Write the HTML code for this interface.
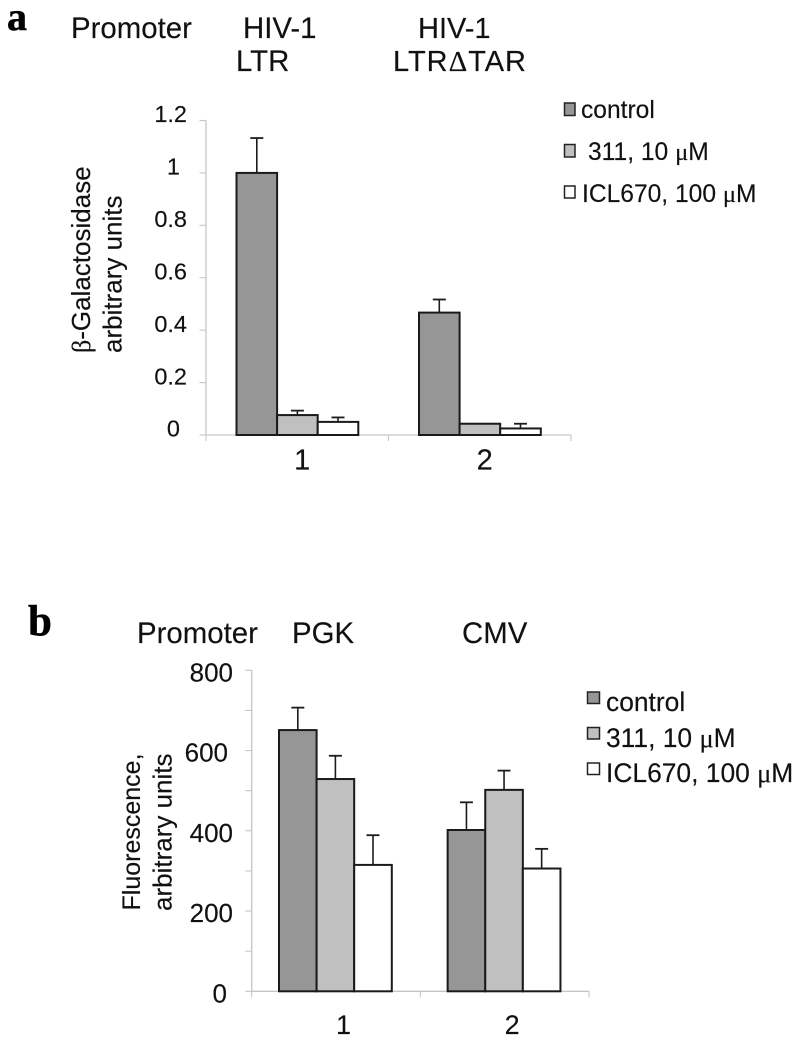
<!DOCTYPE html>
<html>
<head>
<meta charset="utf-8">
<title>Promoter activity bar charts</title>
<style>
html,body{margin:0;padding:0;background:#fff;width:800px;height:1045px;overflow:hidden}
svg{display:block;filter:blur(.3px)}
text{font-family:"Liberation Sans",sans-serif;fill:#111;stroke:#111;stroke-width:.15px}
.sym{font-family:"Liberation Serif",serif}
.letter{font-family:"Liberation Serif",serif;font-weight:bold;font-size:40px;fill:#000;stroke:#000;stroke-width:.5px}
</style>
</head>
<body>
<svg id="figure" width="800" height="1045" viewBox="0 0 800 1045" xmlns="http://www.w3.org/2000/svg">
  <rect width="800" height="1045" fill="#fff"/>

  <text class="letter" x="7" y="30">a</text>
  <text x="71" y="38" font-size="29.4">Promoter</text>
  <text x="243" y="38" font-size="29.4">HIV-1</text>
  <text x="236" y="71" font-size="29.4">LTR</text>
  <text x="418" y="38" font-size="29">HIV-1</text>
  <text x="393" y="71" font-size="29" textLength="133" lengthAdjust="spacing">LTR<tspan class="sym">Δ</tspan>TAR</text>
  <text transform="translate(90 353) rotate(-90)" font-size="26"><tspan class="sym">β</tspan>-Galactosidase</text>
  <text transform="translate(121.5 353) rotate(-90)" font-size="26">arbitrary units</text>

  <rect x="564.5" y="103" width="10.5" height="12.5" fill="#969696" stroke="#222" stroke-width="1.5"/>
  <text x="581" y="118" font-size="24.6">control</text>
  <rect x="564.5" y="144.5" width="10.5" height="12.5" fill="#c0c0c0" stroke="#222" stroke-width="1.5"/>
  <text x="588" y="160" font-size="24.6">311, 10 <tspan class="sym">μ</tspan>M</text>
  <rect x="564.5" y="186" width="10.5" height="12" fill="#fff" stroke="#222" stroke-width="1.5"/>
  <text x="582" y="202" font-size="24.6">ICL670, 100 <tspan class="sym">μ</tspan>M</text>

  <text class="letter" x="28" y="635" style="font-size:43px">b</text>
  <text x="137" y="643" font-size="29.4">Promoter</text>
  <text x="292" y="643" font-size="29.4">PGK</text>
  <text x="462" y="643" font-size="29.4">CMV</text>
  <text transform="translate(140 910.5) rotate(-90)" font-size="25">Fluorescence,</text>
  <text transform="translate(171.5 911) rotate(-90)" font-size="26">arbitrary units</text>

  <rect x="587.5" y="692" width="12" height="11.5" fill="#969696" stroke="#222" stroke-width="1.5"/>
  <text x="606" y="711" font-size="26.4">control</text>
  <rect x="587.5" y="727.5" width="12" height="11.5" fill="#c0c0c0" stroke="#222" stroke-width="1.5"/>
  <text x="606" y="747" font-size="26.4">311, 10 <tspan class="sym">μ</tspan>M</text>
  <rect x="587.5" y="763" width="12" height="11.5" fill="#fff" stroke="#222" stroke-width="1.5"/>
  <text x="606" y="782" font-size="26.4">ICL670, 100 <tspan class="sym">μ</tspan>M</text>
</svg>
<script>
// Panel a data
const categoriesA = ['1', '2'];
const yTicksA = [0, 0.2, 0.4, 0.6, 0.8, 1, 1.2];
const controlA = [1.0, 0.467];
const drug311A = [0.076, 0.043];
const iclA = [0.05, 0.025];
const controlErrTopA = [1.133, 0.517];
const drug311ErrTopA = [0.093, 0.043];
const iclErrTopA = [0.067, 0.043];

// Panel b data
const categoriesB = ['1', '2'];
const yTicksB = [0, 100, 200, 300, 400, 500, 600, 700, 800];
const yLabelsB = ['0', '', '200', '', '400', '', '600', '', '800'];
const controlB = [651, 402];
const drug311B = [529, 502];
const iclB = [315, 306];
const controlErrTopB = [707, 471];
const drug311ErrTopB = [587, 550];
const iclErrTopB = [389, 355];

const seriesFills = ['#969696', '#c0c0c0', '#ffffff'];
const seriesNames = ['control', '311', 'icl670'];

const svg = document.getElementById('figure');
const NS = 'http://www.w3.org/2000/svg';

function make(tag, props) {
  const el = document.createElementNS(NS, tag);
  for (const k in props) el.setAttribute(k, props[k]);
  svg.appendChild(el);
  return el;
}

function drawPanel(cfg) {
  const yScale = v => cfg.y0 - (v - cfg.yMin) / (cfg.yMax - cfg.yMin) * (cfg.y0 - cfg.yTop);
  const catW = (cfg.x1 - cfg.x0) / cfg.categories.length;
  const xBar = (c, s) => cfg.x0 + catW * c + cfg.gap + s * cfg.barW;

  // axes
  const yAxis = make('line', {x1: cfg.x0, x2: cfg.x0, y1: cfg.yTop, y2: cfg.y0, stroke: '#c6c6c6', 'stroke-width': 1.3});
  
  
  const xAxis = make('line', {x1: cfg.x0, x2: cfg.x1, y1: cfg.y0, y2: cfg.y0, stroke: '#c6c6c6', 'stroke-width': 1.3});
  
  

  // y ticks and labels
  cfg.yTicks.forEach((t, i) => {
    const y = yScale(t);
    const tick = make('line', {x1: cfg.x0 - 6.5, x2: cfg.x0, y1: y, y2: y, stroke: '#c6c6c6', 'stroke-width': 1.1});
    
    
    const label = cfg.yLabels[i];
    if (label !== '') {
      const shift = label.length === 1 ? cfg.shortLabelShift : (label === cfg.shiftedLabel ? cfg.shiftedLabelDx : 0);
      const tx = make('text', {x: cfg.yLabelX + shift, y: y + cfg.yLabelDy, 'font-size': cfg.tickSize, 'text-anchor': 'end'});
      tx.textContent = label;
      
      
    }
  });

  // x ticks
  for (let c = 0; c <= cfg.categories.length; c++) {
    const x = cfg.x0 + catW * c;
    const tick = make('line', {x1: x, x2: x, y1: cfg.y0, y2: cfg.y0 + 6, stroke: '#c6c6c6', 'stroke-width': 1.1});
    
    
  }

  // bars and error bars
  cfg.categories.forEach((cat, c) => {
    cfg.values.forEach((vals, s) => {
      const x = xBar(c, s);
      const yv = yScale(vals[c]);
      const yErr = yScale(cfg.errTops[s][c]);
      const cx = x + cfg.barW / 2;
      if (cfg.errTops[s][c] > vals[c]) {
        const stem = make('line', {x1: cx, x2: cx, y1: yErr, y2: yv, stroke: '#1c1c1c', 'stroke-width': 1.6});
        
        
        const cap = make('line', {x1: cx - 6.5, x2: cx + 6.5, y1: yErr, y2: yErr, stroke: '#1c1c1c', 'stroke-width': 1.8});
        
        
      }
      const bar = make('rect', {x: x, y: yv, width: cfg.barW, height: yScale(0) - yv, fill: seriesFills[s], stroke: '#1a1a1a', 'stroke-width': 2});
      
      
    });
    const lab = make('text', {x: cfg.x0 + catW * (c + 0.5) + cfg.catDx, y: cfg.catY, 'font-size': cfg.catSize, 'text-anchor': 'middle'});
    lab.textContent = cat;
    
    
  });
}

drawPanel({
  id: 'panel-a', x0: 206, x1: 571, y0: 435, yTop: 120.5, yMin: 0, yMax: 1.2,
  gap: 30.5, barW: 40.6,
  categories: categoriesA, yTicks: yTicksA,
  yLabels: yTicksA.map(String),
  values: [controlA, drug311A, iclA],
  errTops: [controlErrTopA, drug311ErrTopA, iclErrTopA],
  yLabelX: 187, yLabelDy: 1.7, tickSize: 23.5,
  shortLabelShift: -7, shiftedLabel: '', shiftedLabelDx: 0,
  catDx: 5, catY: 469.5, catSize: 29
});

drawPanel({
  id: 'panel-b', x0: 251.7, x1: 589, y0: 991.3, yTop: 670.3, yMin: 0, yMax: 800,
  gap: 27.3, barW: 37.6,
  categories: categoriesB, yTicks: yTicksB,
  yLabels: yLabelsB,
  values: [controlB, drug311B, iclB],
  errTops: [controlErrTopB, drug311ErrTopB, iclErrTopB],
  yLabelX: 233, yLabelDy: 11, tickSize: 26,
  shortLabelShift: -6, shiftedLabel: '600', shiftedLabelDx: -5,
  catDx: 7.5, catY: 1034, catSize: 27
});
</script>
</body>
</html>
